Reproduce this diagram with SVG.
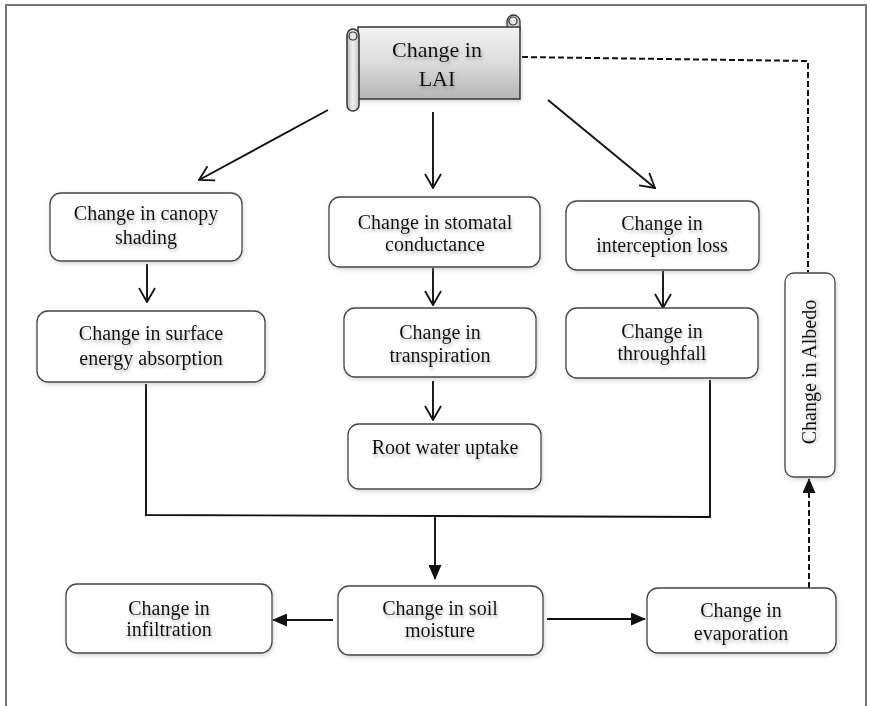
<svg xmlns="http://www.w3.org/2000/svg" width="870" height="706" viewBox="0 0 870 706">
<defs>
<style>
.box{fill:#fff;stroke:#444;stroke-width:1.3;filter:url(#bs)}
.t{font-family:"Liberation Serif","Times New Roman",serif;font-size:20px;fill:#111;text-anchor:middle;filter:url(#ts)}
.ln{fill:none;stroke:#111;stroke-width:1.9}
.dash{fill:none;stroke:#111;stroke-width:2;stroke-dasharray:6 3}
</style>
<filter id="ts" x="-10%" y="-30%" width="120%" height="170%">
<feDropShadow dx="1" dy="2.5" stdDeviation="1.5" flood-color="#777" flood-opacity="0.55"/>
</filter>
<filter id="bs" x="-10%" y="-10%" width="120%" height="130%">
<feDropShadow dx="1" dy="2" stdDeviation="2" flood-color="#999" flood-opacity="0.4"/>
</filter>
<linearGradient id="sg" x1="0" y1="0" x2="0" y2="1">
<stop offset="0" stop-color="#f2f2f2"/>
<stop offset="0.5" stop-color="#dcdcdc"/>
<stop offset="1" stop-color="#b5b5b5"/>
</linearGradient>
<linearGradient id="rg" x1="0" y1="0" x2="1" y2="0">
<stop offset="0" stop-color="#bdbdbd"/>
<stop offset="0.5" stop-color="#f0f0f0"/>
<stop offset="1" stop-color="#c4c4c4"/>
</linearGradient>
<marker id="open" viewBox="0 0 16 18" refX="15" refY="9" markerWidth="16" markerHeight="18" markerUnits="userSpaceOnUse" orient="auto">
<path d="M1,1 L15,9 L1,17" fill="none" stroke="#111" stroke-width="1.8"/>
</marker>
<marker id="fill" viewBox="0 0 15 13" refX="14" refY="6.5" markerWidth="15" markerHeight="13" markerUnits="userSpaceOnUse" orient="auto">
<path d="M0,0 L15,6.5 L0,13 Z" fill="#111"/>
</marker>
</defs>
<rect width="870" height="706" fill="#fff"/>
<g id="frame">
<path d="M6,706 V5 H866 V706" fill="none" stroke="#777" stroke-width="2"/>
</g>
<g id="connectors">
<line class="ln" x1="328" y1="110" x2="199" y2="180" marker-end="url(#open)"/>
<line class="ln" x1="433" y1="112" x2="433" y2="188" marker-end="url(#open)"/>
<line class="ln" x1="548" y1="100" x2="655" y2="188" marker-end="url(#open)"/>
<line class="ln" x1="147" y1="264" x2="147" y2="302" marker-end="url(#open)"/>
<line class="ln" x1="433" y1="268" x2="433" y2="305" marker-end="url(#open)"/>
<line class="ln" x1="433" y1="381" x2="433" y2="420" marker-end="url(#open)"/>
<line class="ln" x1="663" y1="271" x2="663" y2="308" marker-end="url(#open)"/>
<polyline class="ln" points="146,384 146,515 710,517 710,380"/>
<line class="ln" x1="435" y1="516" x2="435" y2="579" marker-end="url(#fill)"/>
<line class="ln" x1="333" y1="620" x2="273" y2="620" marker-end="url(#fill)"/>
<line class="ln" x1="547" y1="619" x2="645" y2="619" marker-end="url(#fill)"/>
<polyline class="dash" points="522,57 808,61 808,272"/>
<line class="dash" x1="809" y1="588" x2="809" y2="479" marker-end="url(#fill)"/>
</g>
<g id="lai">
<rect x="507" y="15" width="13" height="20" rx="6.5" fill="url(#rg)" stroke="#333" stroke-width="1.3"/>
<path d="M358,27 H520 V99 H358 Z" fill="url(#sg)" stroke="#333" stroke-width="1.5" filter="url(#bs)"/>
<circle cx="513" cy="21" r="4" fill="none" stroke="#333" stroke-width="1.2"/>
<rect x="347" y="29" width="12" height="82" rx="6" fill="url(#rg)" stroke="#333" stroke-width="1.5"/>
<circle cx="353" cy="36" r="4" fill="none" stroke="#333" stroke-width="1.2"/>
<text class="t" x="437" y="57" style="font-size:22px">Change in</text>
<text class="t" x="437" y="86" style="font-size:22px">LAI</text>
</g>
<g id="canopy">
<rect class="box" x="50" y="193" width="192" height="68" rx="11"/>
<text class="t" x="146" y="220">Change in canopy</text>
<text class="t" x="146" y="244">shading</text>
</g>
<g id="surface">
<rect class="box" x="37" y="311" width="228" height="71" rx="11"/>
<text class="t" x="151" y="340">Change in surface</text>
<text class="t" x="151" y="365">energy absorption</text>
</g>
<g id="stomatal">
<rect class="box" x="329" y="197" width="211" height="70" rx="11"/>
<text class="t" x="435" y="229">Change in stomatal</text>
<text class="t" x="435" y="251">conductance</text>
</g>
<g id="transpiration">
<rect class="box" x="344" y="308" width="192" height="69" rx="11"/>
<text class="t" x="440" y="339">Change in</text>
<text class="t" x="440" y="362">transpiration</text>
</g>
<g id="root">
<rect class="box" x="348" y="424" width="193" height="65" rx="11"/>
<text class="t" x="445" y="454">Root water uptake</text>
</g>
<g id="interception">
<rect class="box" x="566" y="201" width="193" height="69" rx="11"/>
<text class="t" x="662" y="230">Change in</text>
<text class="t" x="662" y="252">interception loss</text>
</g>
<g id="throughfall">
<rect class="box" x="566" y="308" width="192" height="70" rx="11"/>
<text class="t" x="662" y="338">Change in</text>
<text class="t" x="662" y="360">throughfall</text>
</g>
<g id="albedo">
<rect class="box" x="785" y="273" width="50" height="204" rx="9"/>
<text class="t" x="0" y="0" transform="translate(816,372) rotate(-90)">Change in Albedo</text>
</g>
<g id="infiltration">
<rect class="box" x="66" y="584" width="206" height="69" rx="11"/>
<text class="t" x="169" y="615">Change in</text>
<text class="t" x="169" y="636">infiltration</text>
</g>
<g id="soil">
<rect class="box" x="338" y="586" width="205" height="69" rx="11"/>
<text class="t" x="440" y="615">Change in soil</text>
<text class="t" x="440" y="637">moisture</text>
</g>
<g id="evaporation">
<rect class="box" x="647" y="588" width="189" height="65" rx="11"/>
<text class="t" x="741" y="617">Change in</text>
<text class="t" x="741" y="640">evaporation</text>
</g>
</svg>
